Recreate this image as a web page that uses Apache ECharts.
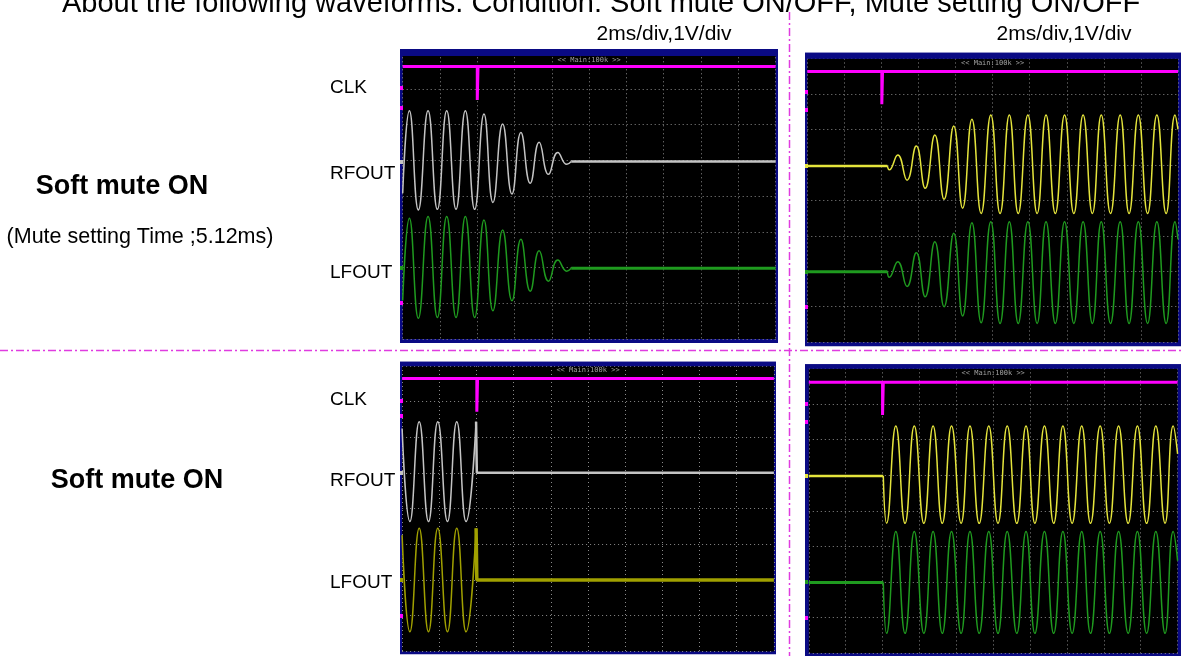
<!DOCTYPE html>
<html><head><meta charset="utf-8">
<script src="https://cdn.jsdelivr.net/npm/echarts@6/dist/echarts.min.js"></script>
<style>html,body{margin:0;padding:0;background:#fff}#c{width:1181px;height:656px}</style>
</head><body><div id="c"></div><script>
// ---------- texts ----------
const titleText = 'About the following waveforms. Condition: Soft mute ON/OFF, Mute setting ON/OFF';
const scaleLabel = '2ms/div,1V/div';
const channelLabels = ['CLK', 'RFOUT', 'LFOUT'];
const rowLabels = ['Soft mute ON', 'Soft mute ON'];
const rowNote = '(Mute setting Time ;5.12ms)';
const headerText = '<< Main:100k >>';

// ---------- data (x in divisions 0..10, y in divisions 0..8) ----------
// Panel A (top-left): soft mute fading out
const clkA_t = [0, 2.0, 2.0, 2.02, 10];
const clkA_v = [7.63, 7.63, 6.69, 7.63, 7.63];
const oscA_t = [0, 0.18, 0.42, 0.68, 0.93, 1.18, 1.43, 1.68, 1.93, 2.18, 2.42, 2.68, 2.93, 3.17, 3.42, 3.66, 3.91, 4.16, 4.40, 4.52];
const rfA_v = [4.08, 6.39, 3.61, 6.39, 3.63, 6.39, 3.63, 6.39, 3.63, 6.30, 3.82, 6.02, 4.06, 5.78, 4.36, 5.51, 4.61, 5.22, 4.89, 4.97];
const lfA_v = [1.08, 3.38, 0.58, 3.43, 0.60, 3.43, 0.60, 3.43, 0.60, 3.33, 0.79, 3.05, 1.07, 2.79, 1.34, 2.47, 1.62, 2.21, 1.90, 1.98];
const flatA_t = [4.52, 10];
const rfA_flat = [4.97, 4.97];
const lfA_flat = [1.98, 1.98];

// Panel B (top-right): soft mute fading in
const clkB_t = [0, 2.01, 2.01, 2.03, 10];
const clkB_v = [7.63, 7.63, 6.71, 7.63, 7.63];
const flatB_t = [0, 2.16];
const rfB_flat = [4.97, 4.97];
const lfB_flat = [1.99, 1.99];
const oscB_t = [2.16, 2.21, 2.44, 2.69, 2.94, 3.18, 3.44, 3.69, 3.95, 4.19, 4.44, 4.69, 4.95, 5.20, 5.45, 5.69, 5.95, 6.20, 6.44, 6.69, 6.94, 7.19, 7.44, 7.69, 7.93, 8.18, 8.44, 8.68, 8.93, 9.18, 9.43, 9.68, 9.92, 10];
const rfB_v = [4.97, 4.86, 5.28, 4.57, 5.53, 4.34, 5.84, 4.03, 6.10, 3.78, 6.29, 3.63, 6.41, 3.63, 6.41, 3.63, 6.41, 3.63, 6.41, 3.63, 6.41, 3.63, 6.41, 3.63, 6.41, 3.63, 6.41, 3.63, 6.41, 3.63, 6.41, 3.63, 6.41, 6.0];
const lfB_v = [1.99, 1.83, 2.27, 1.57, 2.52, 1.28, 2.83, 1.00, 3.07, 0.74, 3.37, 0.55, 3.40, 0.53, 3.40, 0.53, 3.40, 0.53, 3.40, 0.53, 3.40, 0.53, 3.40, 0.53, 3.40, 0.53, 3.40, 0.53, 3.40, 0.53, 3.40, 0.53, 3.40, 2.9];

// Panel C (bottom-left): hard mute out
const clkC_t = [0, 2.01, 2.01, 2.03, 10];
const clkC_v = [7.65, 7.65, 6.72, 7.65, 7.65];
const oscC_t = [0, 0.21, 0.46, 0.71, 0.96, 1.22, 1.47, 1.72, 1.99];
const rfC_v = [6.25, 3.64, 6.44, 3.64, 6.44, 3.64, 6.44, 3.64, 6.44];
const lfC_v = [3.26, 0.55, 3.45, 0.55, 3.45, 0.55, 3.45, 0.55, 3.45];
const flatC_t = [1.99, 2.01, 10];
const rfC_flat = [6.44, 5.01, 5.01];
const lfC_flat = [3.45, 2.0, 2.0];

// Panel D (bottom-right): hard mute in
const clkD_t = [0, 2.0, 2.0, 2.02, 10];
const clkD_v = [7.61, 7.61, 6.69, 7.61, 7.61];
const flatD_t = [0, 2.02];
const rfD_flat = [4.98, 4.98];
const lfD_flat = [1.99, 1.99];
const oscD_t = [2.02, 2.11, 2.36, 2.61, 2.86, 3.12, 3.37, 3.62, 3.87, 4.13, 4.37, 4.62, 4.88, 5.13, 5.38, 5.64, 5.89, 6.13, 6.39, 6.64, 6.89, 7.14, 7.40, 7.64, 7.90, 8.15, 8.40, 8.66, 8.91, 9.16, 9.41, 9.66, 9.88, 10];
const rfD_v = [4.98, 3.65, 6.38, 3.65, 6.38, 3.65, 6.38, 3.65, 6.38, 3.65, 6.38, 3.65, 6.38, 3.65, 6.38, 3.65, 6.38, 3.65, 6.38, 3.65, 6.38, 3.65, 6.38, 3.65, 6.38, 3.65, 6.38, 3.65, 6.38, 3.65, 6.38, 3.65, 6.38, 5.6];
const lfD_v = [1.99, 0.56, 3.42, 0.56, 3.42, 0.56, 3.42, 0.56, 3.42, 0.56, 3.42, 0.56, 3.42, 0.56, 3.42, 0.56, 3.42, 0.56, 3.42, 0.56, 3.42, 0.56, 3.42, 0.56, 3.42, 0.56, 3.42, 0.56, 3.42, 0.56, 3.42, 0.56, 3.42, 2.6];

// ---------- layout ----------
const COLORS = { clk: '#ff00ff', gray: '#c4c4c4', green: '#1f9a1f', yellow: '#e4e43c', olive: '#a0a000', navy: '#0a0a84', sep: '#e03ce0' };
const panels = [
  { grid: { left: 402.7, top: 53.3, width: 372.9, height: 285.7 }, frame: [400, 49, 378, 294], hdrH: 7,
    marks: [[88, '#ff00ff'], [108, '#ff00ff'], [162, '#c4c4c4'], [268, '#1f9a1f'], [303, '#ff00ff']] },
  { grid: { left: 807.3, top: 58.5, width: 370.7, height: 283.7 }, frame: [805, 52.7, 376, 293.5], hdrH: 6,
    marks: [[92, '#ff00ff'], [110, '#ff00ff'], [166, '#e4e43c'], [272, '#1f9a1f'], [307, '#ff00ff']] },
  { grid: { left: 402.1, top: 366.0, width: 371.8, height: 285.4 }, frame: [400, 361.7, 376, 292.5], hdrH: 4.5,
    marks: [[401, '#ff00ff'], [416, '#ff00ff'], [473, '#c4c4c4'], [580, '#a0a000'], [616, '#ff00ff']] },
  { grid: { left: 808.8, top: 368.4, width: 368.8, height: 284.9 }, frame: [805, 364.3, 376, 292], hdrH: 4.5,
    marks: [[404, '#ff00ff'], [422, '#ff00ff'], [476, '#e4e43c'], [582, '#1f9a1f'], [618, '#ff00ff']] }
];
const zip = (t, v) => t.map((x, i) => [x, v[i]]);

const grids = panels.map(p => Object.assign({ containLabel: false, show: false }, p.grid));
const axisCommon = {
  type: 'value', axisLine: { show: false }, axisTick: { show: false }, axisLabel: { show: false },
  splitLine: { show: true, lineStyle: { color: '#8a8a8a', width: 1, type: [1, 3] } }
};
const xAxes = panels.map((p, i) => Object.assign({}, axisCommon, { gridIndex: i, min: 0, max: 10, interval: 1 }));
const yAxes = panels.map((p, i) => Object.assign({}, axisCommon, { gridIndex: i, min: 0, max: 8, interval: 1 }));

function line(idx, data, color, width, smooth) {
  return { type: 'line', xAxisIndex: idx, yAxisIndex: idx, data, showSymbol: false, symbol: 'none',
    smooth: smooth ? 0.5 : false, clip: true, animation: false, silent: true,
    lineStyle: { color, width }, z: 5 };
}
const series = [
  line(0, zip(clkA_t, clkA_v), COLORS.clk, 3, false),
  line(0, zip(oscA_t, rfA_v), COLORS.gray, 1.5, true),
  line(0, zip(flatA_t, rfA_flat), COLORS.gray, 2.5, false),
  line(0, zip(oscA_t, lfA_v), COLORS.green, 1.5, true),
  line(0, zip(flatA_t, lfA_flat), COLORS.green, 3, false),

  line(1, zip(clkB_t, clkB_v), COLORS.clk, 3, false),
  line(1, zip(flatB_t, rfB_flat), COLORS.yellow, 2.5, false),
  line(1, zip(oscB_t, rfB_v), COLORS.yellow, 1.5, true),
  line(1, zip(flatB_t, lfB_flat), COLORS.green, 3, false),
  line(1, zip(oscB_t, lfB_v), COLORS.green, 1.5, true),

  line(2, zip(clkC_t, clkC_v), COLORS.clk, 3, false),
  line(2, zip(oscC_t, rfC_v), COLORS.gray, 1.5, true),
  line(2, zip(flatC_t, rfC_flat), COLORS.gray, 2.5, false),
  line(2, zip(oscC_t, lfC_v), COLORS.olive, 1.5, true),
  line(2, zip(flatC_t, lfC_flat), COLORS.olive, 3.5, false),

  line(3, zip(clkD_t, clkD_v), COLORS.clk, 3, false),
  line(3, zip(flatD_t, rfD_flat), COLORS.yellow, 2.5, false),
  line(3, zip(oscD_t, rfD_v), COLORS.yellow, 1.5, true),
  line(3, zip(flatD_t, lfD_flat), COLORS.green, 3, false),
  line(3, zip(oscD_t, lfD_v), COLORS.green, 1.5, true)
];

// ---------- graphics ----------
const FONT = '"Liberation Sans", Arial, sans-serif';
const g = [];
function txt(x, y, text, size, opts) {
  opts = opts || {};
  g.push({ type: 'text', x, y, z: 50, silent: true,
    style: { text, fill: opts.fill || '#000', font: (opts.bold ? 'bold ' : '') + size + 'px ' + FONT,
      textAlign: opts.align || 'left', textVerticalAlign: 'middle' } });
}
panels.forEach(p => {
  const [fx, fy, fw, fh] = p.frame;
  g.push({ type: 'rect', z: -20, silent: true, shape: { x: fx, y: fy, width: fw, height: fh }, style: { fill: COLORS.navy } });
  g.push({ type: 'rect', z: -19, silent: true, shape: { x: p.grid.left, y: p.grid.top, width: p.grid.width, height: p.grid.height }, style: { fill: '#000' } });
  g.push({ type: 'rect', z: 40, silent: true, shape: { x: fx, y: fy, width: fw, height: p.hdrH }, style: { fill: COLORS.navy } });
  g.push({ type: 'text', z: 41, silent: true, x: p.grid.left + p.grid.width / 2, y: fy + p.hdrH + 4,
    style: { text: headerText, fill: '#a0a0a0', font: '7px "DejaVu Sans Mono", monospace', textAlign: 'center', textVerticalAlign: 'middle' } });
  p.marks.forEach(m => g.push({ type: 'rect', z: 42, silent: true, shape: { x: fx, y: m[0] - 2, width: 3, height: 4 }, style: { fill: m[1] } }));
});
// title (cut at top)
txt(62, 4, titleText, 29, {});
// scale labels
txt(664, 34, scaleLabel, 21, { align: 'center' });
txt(1064, 34, scaleLabel, 21, { align: 'center' });
// channel labels
[[88, 174, 273], [400, 481, 583]].forEach(ys => {
  channelLabels.forEach((t, i) => txt(330, ys[i], t, 19, {}));
});
txt(122, 187, rowLabels[0], 27, { bold: true, align: 'center' });
txt(140, 237, rowNote, 21.5, { align: 'center' });
txt(137, 481, rowLabels[1], 27, { bold: true, align: 'center' });
// separators
g.push({ type: 'line', z: 60, silent: true, shape: { x1: 789.5, y1: 12, x2: 789.5, y2: 656 }, style: { stroke: COLORS.sep, lineWidth: 1.5, lineDash: [8, 3, 2, 3] } });
g.push({ type: 'line', z: 60, silent: true, shape: { x1: 0, y1: 350.5, x2: 1181, y2: 350.5 }, style: { stroke: COLORS.sep, lineWidth: 1.5, lineDash: [8, 3, 2, 3] } });

const chart = echarts.init(document.getElementById('c'), null, { renderer: 'canvas' });
chart.setOption({ animation: false, backgroundColor: '#fff', grid: grids, xAxis: xAxes, yAxis: yAxes, series, graphic: { elements: g } });
</script></body></html>
